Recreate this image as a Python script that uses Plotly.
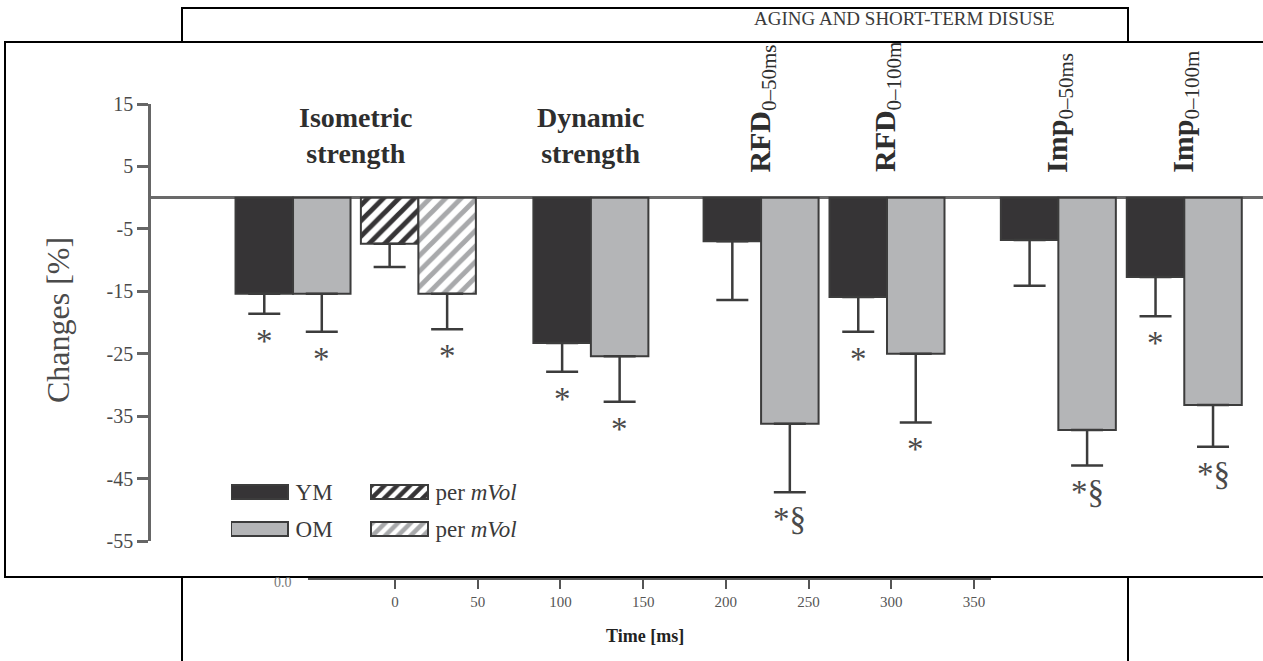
import plotly.graph_objects as go

W, H = 1263, 661

# ---------------- data ----------------
groups = ["Isometric strength", "Isometric strength per mVol", "Dynamic strength",
          "RFD 0-50ms", "RFD 0-100ms", "Imp 0-50ms", "Imp 0-100ms"]
ym_mean = [-15.4, -7.4, -23.3, -7.0, -15.9, -6.8, -12.7]
ym_sd = [3.2, 3.7, 4.6, 9.4, 5.6, 7.3, 6.3]
om_mean = [-15.4, -15.4, -25.4, -36.2, -25.0, -37.2, -33.2]
om_sd = [6.1, 5.7, 7.3, 11.0, 11.0, 5.7, 6.7]
ym_sig = ["*", "", "*", "", "*", "", "*"]
om_sig = ["*", "*", "*", "*§", "*", "*§", "*§"]

section_main = ["Isometric<br>strength", "Dynamic<br>strength", "RFD", "RFD", "Imp", "Imp"]
section_sub = ["", "", "0–50ms", "0–100m", "0–50ms", "0–100m"]
section_groups = [[0, 1], [2], [3], [4], [5], [6]]
section_rotated = [False, False, True, True, True, True]

ytick_vals = [15, 5, -5, -15, -25, -35, -45, -55]
ytick_text = ["15", "5", "-5", "-15", "-25", "-35", "-45", "-55"]

time_ticks = [0, 50, 100, 150, 200, 250, 300, 350]

legend_names = ["YM", "OM", "per <i>mVol</i>", "per <i>mVol</i>"]

# ---------------- style / layout ----------------
FONT = "Liberation Serif, Times New Roman, serif"
DARK = "#363436"
GREY = "#b4b5b7"
EDGE = "#3c3c3c"
TXT = "#4a4a4a"
group_steps = [2.47, 2.18, 3.0, 2.96, 2.19, 2.98, 2.19]  # spacing in bar widths
centers = []
acc = 0.0
for s in group_steps:
    acc += s
    centers.append(acc)
hatched = [g.endswith("per mVol") for g in groups]

def fx(p):
    return p / W

def fy(p):
    return 1 - p / H

fig = go.Figure()

def pattern(fg):
    return dict(shape=["/" if h else "" for h in hatched],
                fgcolor=fg, bgcolor="white", size=11, solidity=0.45)

fig.add_trace(go.Bar(
    x=centers, y=ym_mean, offset=-1, width=1,
    marker=dict(color=DARK, line=dict(color=EDGE, width=2), pattern=pattern(DARK)),
    error_y=dict(type="data", symmetric=False, array=[0] * len(ym_sd),
                 arrayminus=ym_sd, color=EDGE, thickness=2.5, width=16),
    showlegend=False))
fig.add_trace(go.Bar(
    x=centers, y=om_mean, offset=0, width=1,
    marker=dict(color=GREY, line=dict(color=EDGE, width=2), pattern=pattern("#a8a9ab")),
    error_y=dict(type="data", symmetric=False, array=[0] * len(om_sd),
                 arrayminus=om_sd, color=EDGE, thickness=2.5, width=16),
    showlegend=False))

annotations = []
# significance marks
for c, m, s, t in zip(centers, ym_mean, ym_sd, ym_sig):
    if t:
        annotations.append(dict(x=c - 0.5, y=m - s, xref="x", yref="y", text=t,
                                showarrow=False, yanchor="middle", yshift=-27,
                                font=dict(family=FONT, size=33, color=TXT)))
for c, m, s, t in zip(centers, om_mean, om_sd, om_sig):
    if t:
        annotations.append(dict(x=c + 0.5, y=m - s, xref="x", yref="y", text=t,
                                showarrow=False, yanchor="middle", yshift=-27,
                                font=dict(family=FONT, size=33, color=TXT)))

# section labels
for main, sub, gi, rot in zip(section_main, section_sub, section_groups, section_rotated):
    xc = sum(centers[i] for i in gi) / len(gi)
    if rot:
        annotations.append(dict(x=xc, y=3.7, xref="x", yref="y",
                                text="<b>" + main + "</b><sub>" + sub + "</sub>",
                                textangle=-90, showarrow=False, yanchor="bottom",
                                xanchor="center",
                                font=dict(family=FONT, size=30, color="#2e2e2e")))
    else:
        annotations.append(dict(x=xc, y=4.3, xref="x", yref="y", text="<b>" + main + "</b>",
                                showarrow=False, yanchor="bottom", xanchor="center",
                                font=dict(family=FONT, size=28, color="#2e2e2e")))

# y-axis title
annotations.append(dict(x=fx(58), y=fy(320), xref="paper", yref="paper",
                        xanchor="center", yanchor="middle",
                        text="Changes [%]", textangle=-90, showarrow=False,
                        font=dict(family=FONT, size=32, color=TXT)))
# header of background page
annotations.append(dict(x=fx(904), y=fy(19), xref="paper", yref="paper",
                        xanchor="center", yanchor="middle",
                        text="AGING AND SHORT-TERM DISUSE", showarrow=False,
                        font=dict(family=FONT, size=19, color="#3a3a3a")))
annotations.append(dict(x=fx(283), y=fy(582), xref="paper", yref="paper",
                        xanchor="center", yanchor="middle",
                        text="0.0", showarrow=False,
                        font=dict(family=FONT, size=14, color="#777")))
# title of the time axis (page behind)
annotations.append(dict(x=fx(645), y=fy(636), xref="paper", yref="paper",
                        xanchor="center", yanchor="middle",
                        text="<b>Time [ms]</b>", showarrow=False,
                        font=dict(family=FONT, size=18, color="#222")))

# legend swatches (helper axis)
leg_cols = [0, 0, 1, 1]
leg_rows = [0, 1, 0, 1]
leg_fill = [DARK, GREY, "white", "white"]
leg_pat = ["", "", "/", "/"]
leg_fg = [DARK, GREY, DARK, "#a8a9ab"]
for name, c, r, fcol, pat, fg in zip(legend_names, leg_cols, leg_rows, leg_fill, leg_pat, leg_fg):
    fig.add_trace(go.Bar(
        x=[0.407], base=[c], y=[r], orientation="h", width=0.38,
        xaxis="x2", yaxis="y2", text=["\u2009" + name], textposition="outside",
        constraintext="none", cliponaxis=False,
        textfont=dict(family=FONT, size=23, color="#3a3a3a"),
        marker=dict(color=fcol if not pat else fg, line=dict(color=EDGE, width=2),
                    pattern=dict(shape=pat, fgcolor=fg, bgcolor="white", size=9, solidity=0.5)),
        showlegend=False, hoverinfo="skip"))

# dummy trace for time axis of the page behind
fig.add_trace(go.Scatter(x=[], y=[], xaxis="x3", yaxis="y3", showlegend=False))

shapes = [
    # background page frame
    dict(type="rect", xref="paper", yref="paper", x0=fx(182), x1=fx(1128),
         y0=fy(700), y1=fy(8), line=dict(color="black", width=2),
         fillcolor="white", layer="below"),
    # main figure frame
    dict(type="rect", xref="paper", yref="paper", x0=fx(5), x1=fx(1280),
         y0=fy(577), y1=fy(42), line=dict(color="black", width=2),
         fillcolor="white", layer="below"),
]

fig.update_layout(
    width=W, height=H, template="none",
    margin=dict(l=0, r=0, t=0, b=0),
    paper_bgcolor="white", plot_bgcolor="rgba(0,0,0,0)",
    barmode="overlay",
    xaxis=dict(domain=[fx(151), 1], range=[0, (W - 151) / 57.5], visible=False,
               automargin=False),
    yaxis=dict(domain=[fy(541), fy(104)], range=[-55, 15], tickvals=ytick_vals,
               ticktext=ytick_text, ticks="outside", ticklen=11, tickwidth=2.5,
               tickcolor="#666", showline=True, linecolor="#666", linewidth=2.5,
               showgrid=False, zeroline=True, zerolinecolor="#6a6a6a",
               zerolinewidth=2.5, automargin=False,
               tickfont=dict(family=FONT, size=20, color=TXT)),
    xaxis2=dict(domain=[fx(231), fx(511)], range=[0, 2], visible=False,
                anchor="y2", automargin=False),
    yaxis2=dict(domain=[fy(547.5), fy(473.5)], range=[1.5, -0.5], visible=False,
                anchor="x2", automargin=False),
    xaxis3=dict(domain=[fx(308), fx(991)], range=[-52.6, 360.3], anchor="y3",
                tickvals=time_ticks, ticks="outside", ticklen=9, tickwidth=2,
                tickcolor="#555", showline=True, linecolor="#555", linewidth=2,
                showgrid=False, zeroline=False, automargin=False,
                tickfont=dict(family=FONT, size=15, color="#555")),
    yaxis3=dict(domain=[fy(578), fy(560)], range=[0, 1], visible=False,
                anchor="x3", automargin=False),
    annotations=annotations,
    shapes=shapes,
)

fig.write_html("out.html")
